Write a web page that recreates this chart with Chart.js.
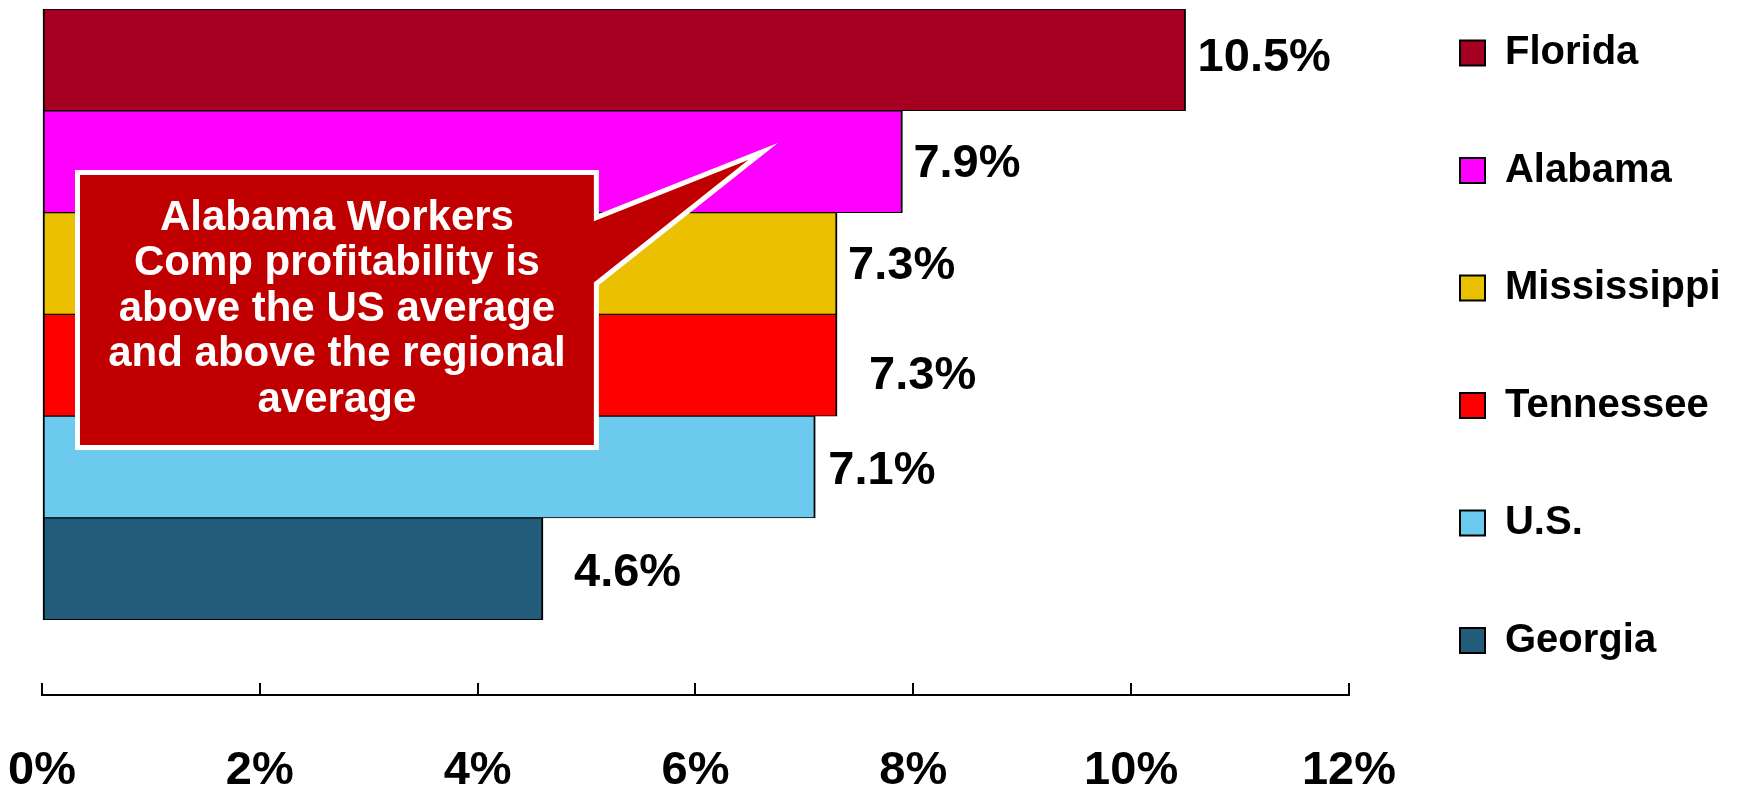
<!DOCTYPE html>
<html>
<head>
<meta charset="utf-8">
<script src="https://cdn.jsdelivr.net/npm/chart.js@4.4.0/dist/chart.umd.min.js"></script>
<style>
  html, body { margin: 0; padding: 0; background: #fff; }
  #wrap { width: 1737px; height: 792px; position: relative; }
</style>
</head>
<body>
<div id="wrap"><canvas id="barChart"></canvas></div>
<script>
// datos del grafico
const states = ['Florida', 'Alabama', 'Mississippi', 'Tennessee', 'U.S.', 'Georgia'];
const values = [10.5, 7.9, 7.3, 7.3, 7.1, 4.6];
const barColors = ['#A50021', '#FF00FF', '#EBC000', '#FF0000', '#6DCAEF', '#235C7A'];
const xTicks = [0, 2, 4, 6, 8, 10, 12];
const calloutLines = ['Alabama Workers', 'Comp profitability is', 'above the US average', 'and above the regional', 'average'];

// pequeños ajustes de las etiquetas (px)
const labelShift = [[12, -1.5], [11, 2], [11, 3], [32, 11], [13, 4], [31, 4]];

const FONT = '"Liberation Sans", Arial, sans-serif';
Chart.defaults.font.family = FONT;
Chart.defaults.color = '#000';

// etiquetas de valor al final de cada barra
const valueLabels = {
    id: 'valueLabels',
    afterDatasetsDraw(chart) {
        const ctx = chart.ctx;
        const meta = chart.getDatasetMeta(0);
        ctx.save();
        ctx.font = 'bold 47px ' + FONT;
        ctx.fillStyle = '#000';
        ctx.textAlign = 'left';
        ctx.textBaseline = 'middle';
        meta.data.forEach((bar, i) => {
            const s = labelShift[i];
            ctx.fillText(values[i].toFixed(1) + '%', bar.x + s[0], bar.y + s[1]);
        });
        ctx.restore();
    }
};

// globo de texto rojo
const callout = {
    id: 'callout',
    afterDatasetsDraw(chart) {
        const ctx = chart.ctx;
        const x = chart.scales.x, y = chart.scales.y;
        const L = x.getPixelForValue(0.326), R = x.getPixelForValue(5.09);
        const T = y.getPixelForValue(1.106), B = y.getPixelForValue(3.808);
        const a1 = y.getPixelForValue(1.55), a2 = y.getPixelForValue(2.2);
        const tipX = x.getPixelForValue(6.62), tipY = y.getPixelForValue(0.9);
        ctx.save();
        ctx.beginPath();
        ctx.moveTo(L, T);
        ctx.lineTo(R, T);
        ctx.lineTo(R, a1);
        ctx.lineTo(tipX, tipY);
        ctx.lineTo(R, a2);
        ctx.lineTo(R, B);
        ctx.lineTo(L, B);
        ctx.closePath();
        ctx.fillStyle = '#C00000';
        ctx.fill();
        ctx.lineWidth = 5;
        ctx.lineJoin = 'miter';
        ctx.strokeStyle = '#fff';
        ctx.stroke();
        ctx.font = 'bold 42px ' + FONT;
        ctx.fillStyle = '#fff';
        ctx.textAlign = 'center';
        ctx.textBaseline = 'alphabetic';
        const cx = (L + R) / 2, cy = (T + B) / 2, lh = 45.5;
        calloutLines.forEach((t, i) => {
            ctx.fillText(t, cx, cy + 11 + (i - (calloutLines.length - 1) / 2) * lh);
        });
        ctx.restore();
    }
};

const ctx = document.getElementById('barChart').getContext('2d');
new Chart(ctx, {
    type: 'bar',
    data: {
        labels: states,
        datasets: [{
            data: values.map((v, i) => ({ x: v, y: i })),
            backgroundColor: barColors,
            borderColor: '#000',
            borderWidth: { top: 1, bottom: 1, left: 2, right: 2 },
            borderSkipped: false,
            categoryPercentage: 1,
            barPercentage: 1
        }]
    },
    options: {
        indexAxis: 'y',
        responsive: true,
        maintainAspectRatio: false,
        animation: false,
        layout: { padding: { top: 9, left: 42, right: 6.4, bottom: 0 } },
        plugins: {
            tooltip: { enabled: false },
            legend: {
                position: 'right',
                align: 'start',
                labels: {
                    boxWidth: 25,
                    boxHeight: 25,
                    padding: 24,
                    color: '#000',
                    font: { size: 40, weight: 'bold', lineHeight: 2.3375 },
                    generateLabels(chart) {
                        return chart.data.labels.map((lab, i) => ({
                            text: [lab],
                            fillStyle: barColors[i],
                            strokeStyle: '#000',
                            lineWidth: 2,
                            fontColor: '#000',
                            hidden: false,
                            index: i
                        }));
                    }
                }
            }
        },
        scales: {
            x: {
                type: 'linear',
                min: 0,
                max: 12,
                afterBuildTicks(axis) {
                    axis.ticks = xTicks.map(v => ({ value: v }));
                },
                ticks: {
                    callback: v => v + '%',
                    // interlineado grande para bajar las etiquetas
                    font: { size: 47, weight: 'bold', lineHeight: 3.745 },
                    color: '#000',
                    padding: 0,
                    maxRotation: 0
                },
                grid: {
                    display: true,
                    drawOnChartArea: false,
                    drawTicks: true,
                    tickLength: -12,
                    color: '#000',
                    lineWidth: 2
                },
                border: { display: true, color: '#000', width: 2 },
                afterFit(axis) { axis.height = 97; }
            },
            y: {
                type: 'linear',
                position: 'right',
                reverse: true,
                offset: false,
                min: -0.5,
                max: 6.24,
                afterBuildTicks(axis) {
                    axis.ticks = states.map((s, i) => ({ value: i }));
                },
                grid: { display: false, offset: false },
                border: { display: false },
                ticks: { display: false },
                afterFit(axis) { axis.width = 87; }
            }
        }
    },
    plugins: [valueLabels, callout]
});
</script>
</body>
</html>
